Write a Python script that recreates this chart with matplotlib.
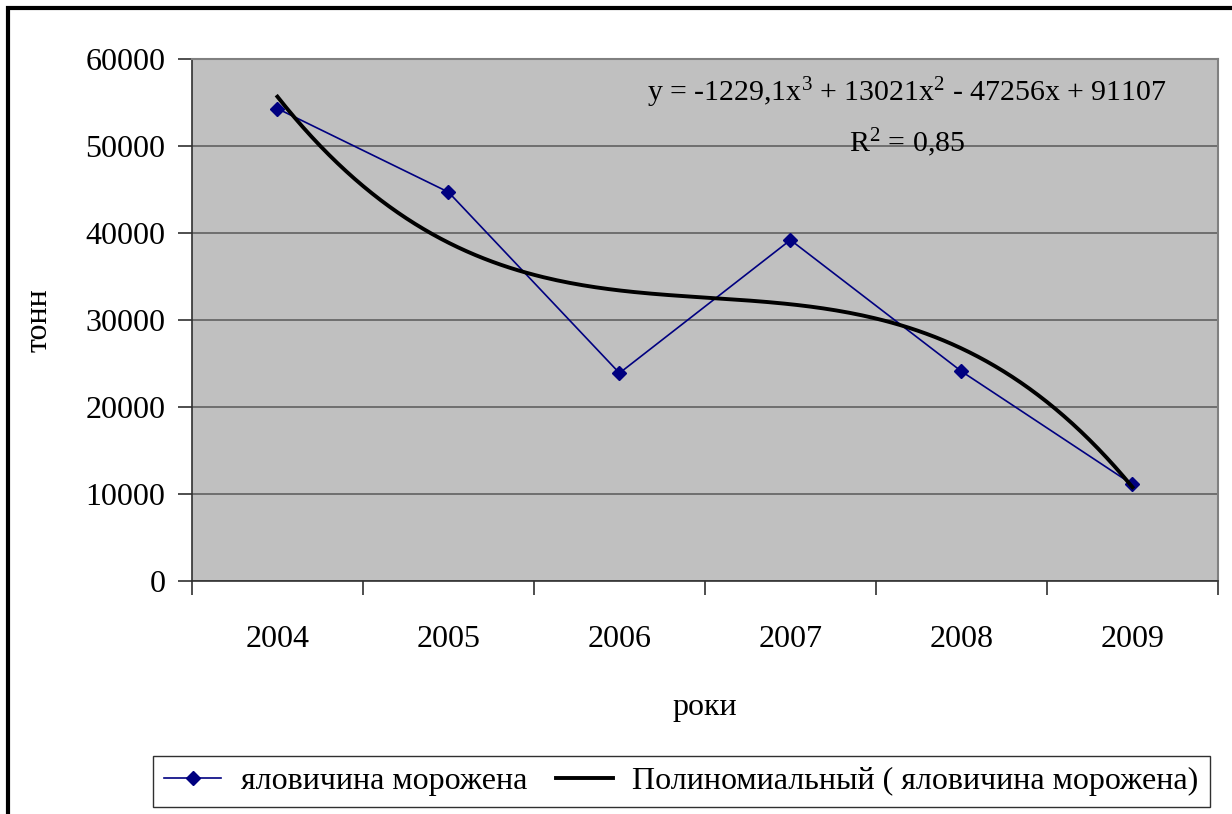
import numpy as np
import matplotlib.pyplot as plt
from matplotlib.patches import Rectangle

plt.rcParams['font.family'] = ['Liberation Serif', 'DejaVu Serif']
plt.rcParams['mathtext.fontset'] = 'custom'
plt.rcParams['mathtext.rm'] = 'Liberation Serif'
plt.rcParams['mathtext.default'] = 'regular'

# --- dati ---
roki = ['2004', '2005', '2006', '2007', '2008', '2009']
tonn = [54300, 44700, 23900, 39200, 24100, 11100]
y_ticks = [0, 10000, 20000, 30000, 40000, 50000, 60000]
nome_serie = 'яловичина морожена'
nome_trend = 'Полиномиальный ( яловичина морожена)'
eq_text = 'y = -1229,1x$^3$ + 13021x$^2$ - 47256x + 91107\nR$^2$ = 0,85'

FS = 23

fig = plt.figure(figsize=(12.32, 8.14), dpi=100)
fig.patches.append(Rectangle((0.0065, -0.1), 1.2, 1.09, transform=fig.transFigure,
                             fill=False, edgecolor='black', linewidth=3))

ax = fig.add_axes([0.1558, 0.2862, 0.8328, 0.6413])
ax.set_facecolor('#C0C0C0')

x = np.arange(1, len(roki) + 1)

# trend polinomiale di 3° grado (come Excel)
coef = np.polyfit(x, tonn, 3)
xs = np.linspace(1, len(roki), 200)
ax.plot(x, tonn, color='#000080', linewidth=1.2, marker='D', markersize=7,
        label=nome_serie, zorder=3)
ax.plot(xs, np.polyval(coef, xs), color='black', linewidth=2.8,
        label=nome_trend, zorder=4)

ax.set_xlim(0.5, len(roki) + 0.5)
ax.set_ylim(0, 60000)
ax.set_yticks(y_ticks)
ax.set_yticklabels([str(v) for v in y_ticks], fontsize=FS)
ax.yaxis.grid(True, color='#606060', linewidth=1.2)
ax.set_axisbelow(True)

ax.set_xticks(np.arange(0.5, len(roki) + 1, 1))
ax.set_xticklabels([])
ax.set_xticks(x, minor=True)
ax.set_xticklabels(roki, minor=True, fontsize=FS)
ax.tick_params(axis='x', which='major', direction='out', length=10, width=1.2, color='#303030')
ax.tick_params(axis='x', which='minor', length=0, pad=32)
ax.tick_params(axis='y', direction='out', length=10, width=1.2, color='#303030', pad=9)

for s in ['left', 'bottom']:
    ax.spines[s].set_color('#303030')
    ax.spines[s].set_linewidth(1.2)
for s in ['top', 'right']:
    ax.spines[s].set_color('#808080')
    ax.spines[s].set_linewidth(1.5)

ax.set_xlabel('роки', fontsize=FS)
ax.xaxis.set_label_coords(0.5, -0.215)
ax.set_ylabel('тонн', fontsize=FS)
ax.yaxis.set_label_coords(-0.135, 0.5)

ax.text(0.697, 0.968, eq_text, transform=ax.transAxes, ha='center', va='top',
        fontsize=FS - 1.5, linespacing=1.65)

fig.legend(loc='center', bbox_to_anchor=(0.553, 0.040), ncol=2, fontsize=FS,
           frameon=True, fancybox=False, edgecolor='#303030', framealpha=1,
           handlelength=1.8, columnspacing=0.9, handletextpad=0.6,
           borderpad=0.35)

fig.savefig('out.png', dpi=100)
